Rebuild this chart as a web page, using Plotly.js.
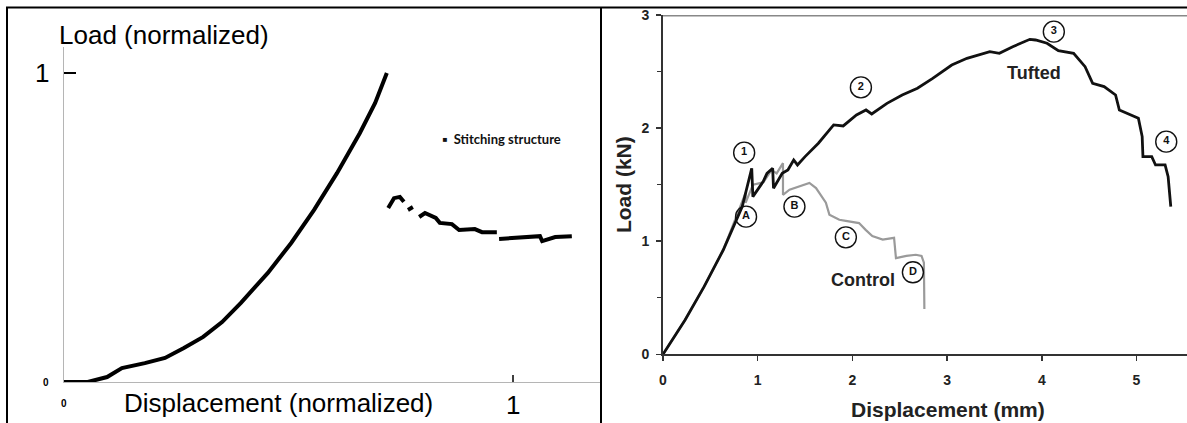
<!DOCTYPE html>
<html>
<head>
<meta charset="utf-8">
<script src="https://cdn.plot.ly/plotly-3.0.1.min.js"></script>
<style>html,body{margin:0;padding:0;background:#fff;}#chart{width:1187px;height:423px;}</style>
</head>
<body>
<div id="chart"></div>
<script>
// ---------- Left panel: normalized stitching structure ----------
const leftRiseX = [0, 0.053, 0.096, 0.129, 0.180, 0.225, 0.267, 0.310, 0.352, 0.394, 0.454, 0.506, 0.557, 0.608, 0.659, 0.693, 0.719];
const leftRiseY = [0, 0, 0.016, 0.045, 0.061, 0.078, 0.110, 0.146, 0.194, 0.256, 0.353, 0.450, 0.557, 0.676, 0.806, 0.903, 1.0];
const leftPostX = [0.722, 0.735, 0.748, 0.757, null, 0.766, 0.777, null, 0.791, 0.804, 0.828, 0.837, 0.864, 0.880, 0.915, 0.931, 0.964, null, 0.969, 1.0, 1.024, 1.06, 1.065, 1.094, 1.131];
const leftPostY = [0.563, 0.595, 0.599, 0.583, null, 0.557, 0.566, null, 0.534, 0.547, 0.531, 0.515, 0.511, 0.492, 0.495, 0.485, 0.485, null, 0.463, 0.466, 0.469, 0.472, 0.456, 0.469, 0.472];
const leftLegendText = "▪  Stitching structure";
const leftYTitle = "Load (normalized)";
const leftXTitle = "Displacement (normalized)";

// ---------- Right panel: load-displacement (kN vs mm) ----------
const tuftedX = [0, 0.233, 0.434, 0.636, 0.837, 0.937, 0.949, 1.058, 1.098, 1.158, 1.167, 1.259, 1.319, 1.380, 1.420, 1.500, 1.641, 1.802, 1.903, 2.043, 2.144, 2.204, 2.365, 2.526, 2.687, 2.848, 3.049, 3.210, 3.451, 3.552, 3.693, 3.874, 3.934, 4.055, 4.175, 4.336, 4.457, 4.537, 4.658, 4.779, 4.819, 4.899, 5.020, 5.060, 5.068, 5.161, 5.201, 5.302, 5.334, 5.362];
const tuftedY = [0, 0.304, 0.598, 0.922, 1.306, 1.645, 1.394, 1.527, 1.600, 1.645, 1.468, 1.600, 1.630, 1.718, 1.674, 1.748, 1.866, 2.028, 2.019, 2.116, 2.160, 2.125, 2.219, 2.293, 2.352, 2.440, 2.558, 2.617, 2.676, 2.661, 2.720, 2.785, 2.779, 2.750, 2.685, 2.661, 2.543, 2.396, 2.367, 2.293, 2.160, 2.131, 2.087, 1.925, 1.748, 1.748, 1.674, 1.674, 1.571, 1.306];
const controlX = [0, 0.233, 0.434, 0.636, 0.872, 0.872, 0.95, 1.06, 1.147, 1.20, 1.267, 1.267, 1.336, 1.44, 1.546, 1.616, 1.668, 1.72, 1.757, 1.862, 1.93, 2.07, 2.14, 2.21, 2.32, 2.44, 2.46, 2.57, 2.67, 2.73, 2.755, 2.76];
const controlY = [0, 0.304, 0.598, 0.922, 1.427, 1.339, 1.50, 1.52, 1.63, 1.60, 1.69, 1.41, 1.455, 1.485, 1.515, 1.47, 1.40, 1.34, 1.235, 1.19, 1.18, 1.16, 1.10, 1.045, 1.015, 1.03, 0.85, 0.87, 0.88, 0.87, 0.81, 0.40];
const markLabels = ['1', '2', '3', '4', 'A', 'B', 'C', 'D'];
const markX = [0.857, 2.09, 4.127, 5.314, 0.877, 1.388, 1.931, 2.639];
const markY = [1.783, 2.36, 2.853, 1.880, 1.217, 1.306, 1.034, 0.725];
const curveNames = ['Tufted', 'Control'];
const curveNameX = [3.914, 2.116];
const curveNameY = [2.49, 0.657];
const rightXTicks = [0, 1, 2, 3, 4, 5];
const rightYTicks = [0, 1, 2, 3];
const rightXTitle = "Displacement (mm)";
const rightYTitle = "Load (kN)";

const W = 1187, H = 423;
const px = v => v / W;
const py = v => (H - v) / H;

const traces = [
  {x: leftRiseX, y: leftRiseY, xaxis: 'x', yaxis: 'y', mode: 'lines', line: {color: '#000', width: 4}, hoverinfo: 'skip', cliponaxis: false},
  {x: leftPostX, y: leftPostY, xaxis: 'x', yaxis: 'y', mode: 'lines', line: {color: '#000', width: 4}, connectgaps: false, hoverinfo: 'skip', cliponaxis: false},
  {x: controlX, y: controlY, xaxis: 'x2', yaxis: 'y2', mode: 'lines', line: {color: '#9a9a9a', width: 2.2}, hoverinfo: 'skip'},
  {x: tuftedX, y: tuftedY, xaxis: 'x2', yaxis: 'y2', mode: 'lines', line: {color: '#111', width: 2.8}, hoverinfo: 'skip'},
  {x: markX, y: markY, xaxis: 'x2', yaxis: 'y2', mode: 'markers+text', text: markLabels, textposition: 'middle center',
   textfont: {family: 'Arial', size: 11, color: '#111', weight: 'bold'},
   marker: {symbol: 'circle-open', size: 21, color: '#111', line: {width: 1.4, color: '#111'}}, hoverinfo: 'skip', cliponaxis: false}
];

const tickFont = {family: 'Arial', size: 14, color: '#222', weight: 'bold'};
const titleFont = {family: 'Arial', size: 21, color: '#222', weight: 'bold'};
const layout = {
  width: W, height: H, margin: {l: 0, r: 0, t: 0, b: 0},
  paper_bgcolor: '#fff', plot_bgcolor: 'rgba(0,0,0,0)', showlegend: false,
  xaxis: {domain: [px(64), px(600)], range: [0, 536 / 449], showgrid: false, zeroline: false,
          showline: true, linecolor: '#b5b5b5', linewidth: 1, tickvals: [], showticklabels: false, fixedrange: true},
  yaxis: {domain: [py(382), py(47)], range: [0, 335 / 309], showgrid: false, zeroline: false,
          showline: true, linecolor: '#b5b5b5', linewidth: 1, tickvals: [1], ticks: 'inside', ticklen: 12,
          tickwidth: 1.5, tickcolor: '#000', showticklabels: false, fixedrange: true},
  xaxis2: {anchor: 'y2', domain: [px(663), 1], range: [0, 524 / 94.7], showgrid: false, zeroline: false,
           showline: true, linecolor: '#333', linewidth: 2, tickvals: rightXTicks, ticks: 'outside',
           ticklen: 5, tickwidth: 1.5, tickcolor: '#333', tickfont: tickFont, ticklabelstandoff: 7, fixedrange: true},
  yaxis2: {anchor: 'x2', domain: [py(354.3), py(15)], range: [0, 3], showgrid: false, zeroline: false,
           showline: true, linecolor: '#333', linewidth: 2, tickvals: rightYTicks, ticks: 'outside',
           ticklen: 5, tickwidth: 1.5, tickcolor: '#333', tickfont: tickFont, ticklabelstandoff: 4,
           minor: {dtick: 0.5, ticks: 'outside', ticklen: 4, tickcolor: '#333', tickwidth: 1.2},
           title: {text: rightYTitle, font: titleFont, standoff: 4}, fixedrange: true},
  shapes: [
    {type: 'line', xref: 'paper', yref: 'paper', x0: px(6), x1: 1, y0: py(7.5), y1: py(7.5), line: {color: '#000', width: 2}},
    {type: 'line', xref: 'paper', yref: 'paper', x0: px(7), x1: px(7), y0: 0, y1: py(7.5), line: {color: '#000', width: 2}},
    {type: 'line', xref: 'paper', yref: 'paper', x0: px(601), x1: px(601), y0: 0, y1: py(7.5), line: {color: '#000', width: 2}},
    {type: 'line', xref: 'x2 domain', yref: 'y2', x0: 0, x1: 1, y0: 3, y1: 3, line: {color: '#888', width: 3}},
    {type: 'line', xref: 'x', x0: 1, x1: 1, yref: 'y', ysizemode: 'pixel', yanchor: 0, y0: -5, y1: 7, line: {color: '#000', width: 1.5}}
  ],
  annotations: [
    {text: leftYTitle, xref: 'paper', yref: 'paper', x: px(57), y: py(35), xanchor: 'left', yanchor: 'middle', showarrow: false,
     font: {family: 'Arial', size: 26, color: '#000'}},
    {text: '1', xref: 'paper', yref: 'y', x: px(51), y: 1, xanchor: 'right', yanchor: 'middle', showarrow: false,
     font: {family: 'Arial', size: 26, color: '#000'}},
    {text: '0', xref: 'paper', yref: 'y', x: px(46), y: 0, xanchor: 'center', yanchor: 'middle', showarrow: false,
     font: {family: 'Arial', size: 10, color: '#000', weight: 'bold'}},
    {text: '0', xref: 'x', yref: 'paper', x: 0, y: py(403), xanchor: 'center', yanchor: 'middle', showarrow: false,
     font: {family: 'Arial', size: 10, color: '#000', weight: 'bold'}},
    {text: '1', xref: 'x', yref: 'paper', x: 1, y: py(405), xanchor: 'center', yanchor: 'middle', showarrow: false,
     font: {family: 'Arial', size: 26, color: '#000'}},
    {text: leftXTitle, xref: 'paper', yref: 'paper', x: px(278), y: py(403), xanchor: 'center', yanchor: 'middle', showarrow: false,
     font: {family: 'Arial', size: 26, color: '#000'}},
    {text: leftLegendText, xref: 'paper', yref: 'paper', x: px(440), y: py(139), xanchor: 'left', yanchor: 'middle', showarrow: false,
     font: {family: 'Lato', size: 13, color: '#111', weight: 'bold'}},
    {text: rightXTitle, xref: 'paper', yref: 'paper', x: px(948), y: py(409), xanchor: 'center', yanchor: 'middle', showarrow: false,
     font: titleFont},
    {text: curveNames[0], xref: 'x2', yref: 'y2', x: curveNameX[0], y: curveNameY[0], xanchor: 'center', yanchor: 'middle', showarrow: false,
     font: {family: 'Arial', size: 18, color: '#222', weight: 'bold'}},
    {text: curveNames[1], xref: 'x2', yref: 'y2', x: curveNameX[1], y: curveNameY[1], xanchor: 'center', yanchor: 'middle', showarrow: false,
     font: {family: 'Arial', size: 18, color: '#222', weight: 'bold'}}
  ]
};

Plotly.newPlot('chart', traces, layout, {staticPlot: true, displayModeBar: false});
</script>
</body>
</html>
